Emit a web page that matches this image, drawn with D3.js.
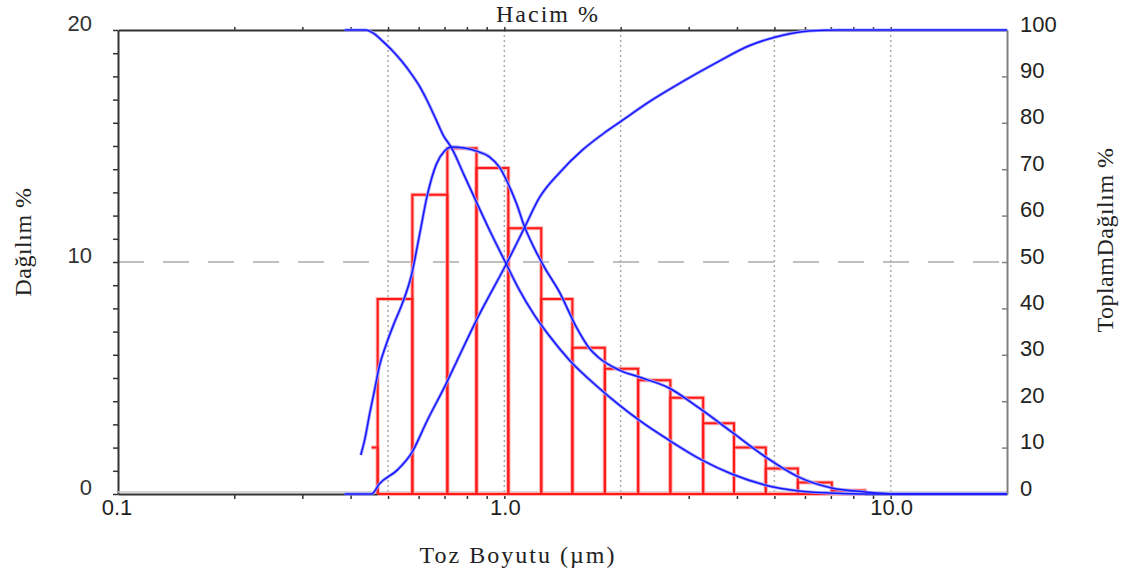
<!DOCTYPE html>
<meta charset="utf-8">

<!-- Load d3.js -->
<script src="https://d3js.org/d3.v7.js"></script>

<style>
  body { margin: 0; background: #fff; }
</style>

<!-- Create a div where the graph will take place -->
<div id="my_dataviz"></div>

<script>

// histogram bins (size in µm) and their volume %
var binEdges  = [0.453, 0.47, 0.578, 0.712, 0.847, 1.024, 1.246, 1.50, 1.82, 2.22, 2.69, 3.27, 3.93, 4.75, 5.75, 7.04, 8.57];
var binValues = [2.0, 8.4, 12.9, 14.9, 14.05, 11.45, 8.4, 6.3, 5.4, 4.9, 4.15, 3.05, 2.0, 1.1, 0.5, 0.15];

// frequency curve (left axis)
var freqSize  = [0.425, 0.435, 0.448, 0.462, 0.475, 0.496, 0.520, 0.545, 0.575, 0.603, 0.632, 0.667, 0.700, 0.730, 0.788, 0.847, 0.915, 0.971, 1.018, 1.074, 1.126, 1.195, 1.269, 1.388, 1.535, 1.658, 1.76, 1.982, 2.233, 2.668, 3.19, 3.88, 4.75, 5.78, 7.04, 8.57, 10.5, 20];
var freqValue = [1.68, 2.33, 3.45, 4.53, 5.52, 6.51, 7.41, 8.23, 9.44, 11.16, 12.89, 14.22, 14.78, 14.96, 14.91, 14.78, 14.53, 14.09, 13.45, 12.54, 11.55, 10.60, 9.78, 8.71, 7.20, 6.29, 5.86, 5.34, 5.04, 4.57, 3.71, 2.67, 1.59, 0.73, 0.26, 0.09, 0, 0];

// cumulative undersize (right axis)
var riseSize  = [0.386, 0.453, 0.475, 0.529, 0.575, 0.632, 0.708, 0.751, 0.852, 1.018, 1.126, 1.231, 1.388, 1.591, 1.813, 1.995, 2.369, 2.884, 3.53, 4.30, 5.04, 6.14, 7.34, 20];
var riseValue = [0, 0, 2.2, 5.2, 8.8, 15.9, 23.9, 28.4, 37.9, 50.0, 57.3, 63.8, 69.2, 74.1, 77.8, 80.2, 84.5, 88.8, 92.9, 96.6, 98.5, 99.8, 100, 100];

// cumulative oversize (right axis)
var fallSize  = [0.386, 0.437, 0.462, 0.484, 0.511, 0.542, 0.575, 0.603, 0.632, 0.663, 0.696, 0.730, 0.784, 0.847, 0.915, 1.0, 1.093, 1.195, 1.307, 1.472, 1.760, 1.982, 2.233, 2.668, 3.25, 3.88, 4.75, 5.78, 7.04, 8.57, 20];
var fallValue = [100, 100, 99.1, 97.6, 95.7, 93.3, 90.5, 87.9, 84.7, 81.0, 77.2, 74.6, 69.0, 62.9, 56.9, 50.4, 44.0, 38.6, 34.1, 28.9, 22.8, 19.2, 15.9, 11.6, 7.3, 4.3, 1.9, 0.65, 0.2, 0, 0];

// tick values
var xMinorTicks = [0.2, 0.3, 0.4, 0.5, 0.6, 0.7, 0.8, 0.9, 1, 2, 3, 4, 5, 6, 7, 8, 9, 10];
var xLabelTicks = [0.1, 1, 10];
var xLabelText  = ["0.1", "1.0", "10.0"];
var xGrid       = [0.5, 1, 2, 5, 10];
var leftLabels  = [0, 10, 20];
var rightTicks  = [0, 10, 20, 30, 40, 50, 60, 70, 80, 90, 100];

// set the dimensions and margins of the graph
var margin = {top: 30, right: 120, bottom: 85, left: 118},
    width = 1127 - margin.left - margin.right,
    height = 579 - margin.top - margin.bottom;

var svg = d3.select("#my_dataviz")
  .append("svg")
    .attr("width", 1127)
    .attr("height", 579)
  .append("g")
    .attr("transform", "translate(" + margin.left + "," + margin.top + ")");

var x = d3.scaleLog().domain([0.1, 20]).range([0, width]);
var yL = d3.scaleLinear().domain([0, 20]).range([height, 0]);
var yR = d3.scaleLinear().domain([0, 100]).range([height, 0]);

// grid
svg.selectAll(".vgrid")
  .data(xGrid)
  .enter()
  .append("line")
    .attr("x1", d => x(d)).attr("x2", d => x(d))
    .attr("y1", 0).attr("y2", height)
    .style("stroke", "#aaa")
    .style("stroke-width", 1.5)
    .style("stroke-dasharray", "2,3");

svg.append("line")
  .attr("x1", 0).attr("x2", width)
  .attr("y1", yL(10)).attr("y2", yL(10))
  .style("stroke", "#aaa")
  .style("stroke-width", 1.5)
  .style("stroke-dasharray", "26,19");

// axes
function styleAxis(g, color) {
  g.select(".domain").style("stroke", color).style("stroke-width", 2);
  g.selectAll(".tick line").style("stroke", color).style("stroke-width", 1.5);
}

svg.append("g")
  .call(d3.axisLeft(yL).tickValues(d3.range(0, 21)).tickSize(5).tickSizeOuter(0).tickFormat(""))
  .call(g => styleAxis(g, "#333"));

svg.append("g")
  .call(d3.axisTop(x).tickValues(xMinorTicks).tickSize(3).tickSizeOuter(0).tickFormat(""))
  .call(g => styleAxis(g, "#333"));

svg.append("line")
  .attr("x1", 0).attr("x2", width)
  .attr("y1", height - 2).attr("y2", height - 2)
  .style("stroke", "#c8c8c8").style("stroke-width", 1.5);

svg.append("g")
  .attr("transform", "translate(0," + height + ")")
  .call(d3.axisBottom(x).tickValues(xMinorTicks).tickSize(5).tickSizeOuter(0).tickFormat(""))
  .call(g => styleAxis(g, "#333"));

svg.append("g")
  .attr("transform", "translate(" + width + ",0)")
  .call(d3.axisRight(yR).tickValues(rightTicks).tickSize(-5).tickSizeOuter(0).tickPadding(13))
  .call(g => styleAxis(g, "#808080"))
  .call(g => g.selectAll("text")
    .attr("dy", "0.05em")
    .style("font-family", "Liberation Sans")
    .style("font-size", "22px")
    .style("fill", "#222"));

// left labels
svg.selectAll(".ylab")
  .data(leftLabels)
  .enter()
  .append("text")
    .attr("x", -26)
    .attr("y", d => yL(d))
    .attr("dy", "0.05em")
    .attr("text-anchor", "end")
    .style("font-family", "Liberation Sans")
    .style("font-size", "22px")
    .style("fill", "#333")
    .text(d => d);

// bottom labels
svg.selectAll(".xlab")
  .data(xLabelTicks)
  .enter()
  .append("text")
    .attr("x", (d, i) => x(d) + (i == 0 ? -1 : 1))
    .attr("y", height + 21)
    .attr("text-anchor", "middle")
    .style("font-family", "Liberation Sans")
    .style("font-size", "22px")
    .style("fill", "#222")
    .text((d, i) => xLabelText[i]);

// bars
var bars = binValues.map((v, i) => ({x0: binEdges[i], x1: binEdges[i + 1], v: v, i: i}));
function barPath(d) {
  var a = x(d.x0), b = x(d.x1), t = yL(d.v), z = yL(0);
  if (d.i == 0) return "M" + a + "," + t + "H" + b + "V" + z;
  return "M" + a + "," + z + "V" + t + "H" + b + "V" + z;
}
[{c: "#ffb4b4", w: 4}, {c: "#ff1a1a", w: 2}].forEach(function (s) {
  svg.append("g")
    .selectAll("path")
    .data(bars)
    .enter()
    .append("path")
      .attr("d", barPath)
      .style("fill", "none")
      .style("stroke", s.c)
      .style("stroke-width", s.w);
  svg.append("line")
    .attr("x1", x(binEdges[1])).attr("x2", x(binEdges[binEdges.length - 1]))
    .attr("y1", height).attr("y2", height)
    .style("stroke", s.c).style("stroke-width", s.w);
});

// curves
var line = d3.line().curve(d3.curveMonotoneX);
var curves = [
  freqSize.map((s, i) => [x(s), yL(freqValue[i])]),
  riseSize.map((s, i) => [x(s), yR(riseValue[i])]),
  fallSize.map((s, i) => [x(s), yR(fallValue[i])])
];
[{c: "#a0a0ff", w: 3.2}, {c: "#1616ff", w: 1.5}].forEach(function (s) {
  svg.append("g")
    .selectAll("path")
    .data(curves)
    .enter()
    .append("path")
      .attr("d", d => line(d))
      .style("fill", "none")
      .style("stroke", s.c)
      .style("stroke-width", s.w);
});

// titles
var title = d3.select("svg");
title.append("text")
  .attr("x", 548).attr("y", 22)
  .attr("text-anchor", "middle")
  .style("font-family", "Liberation Serif")
  .style("font-size", "24px")
  .style("letter-spacing", "2px")
  .style("fill", "#222")
  .text("Hacim %");

title.append("text")
  .attr("x", 518).attr("y", 563)
  .attr("text-anchor", "middle")
  .style("font-family", "Liberation Serif")
  .style("font-size", "24px")
  .style("letter-spacing", "2px")
  .style("fill", "#222")
  .text("Toz Boyutu (µm)");

title.append("text")
  .attr("transform", "translate(31,242) rotate(-90)")
  .attr("text-anchor", "middle")
  .style("font-family", "Liberation Serif")
  .style("font-size", "24px")
  .style("letter-spacing", "0.5px")
  .style("fill", "#222")
  .text("Dağılım %");

title.append("text")
  .attr("transform", "translate(1113,240) rotate(-90)")
  .attr("text-anchor", "middle")
  .style("font-family", "Liberation Serif")
  .style("font-size", "24px")
  .style("letter-spacing", "0.5px")
  .style("fill", "#222")
  .text("ToplamDağılım %");

</script>
